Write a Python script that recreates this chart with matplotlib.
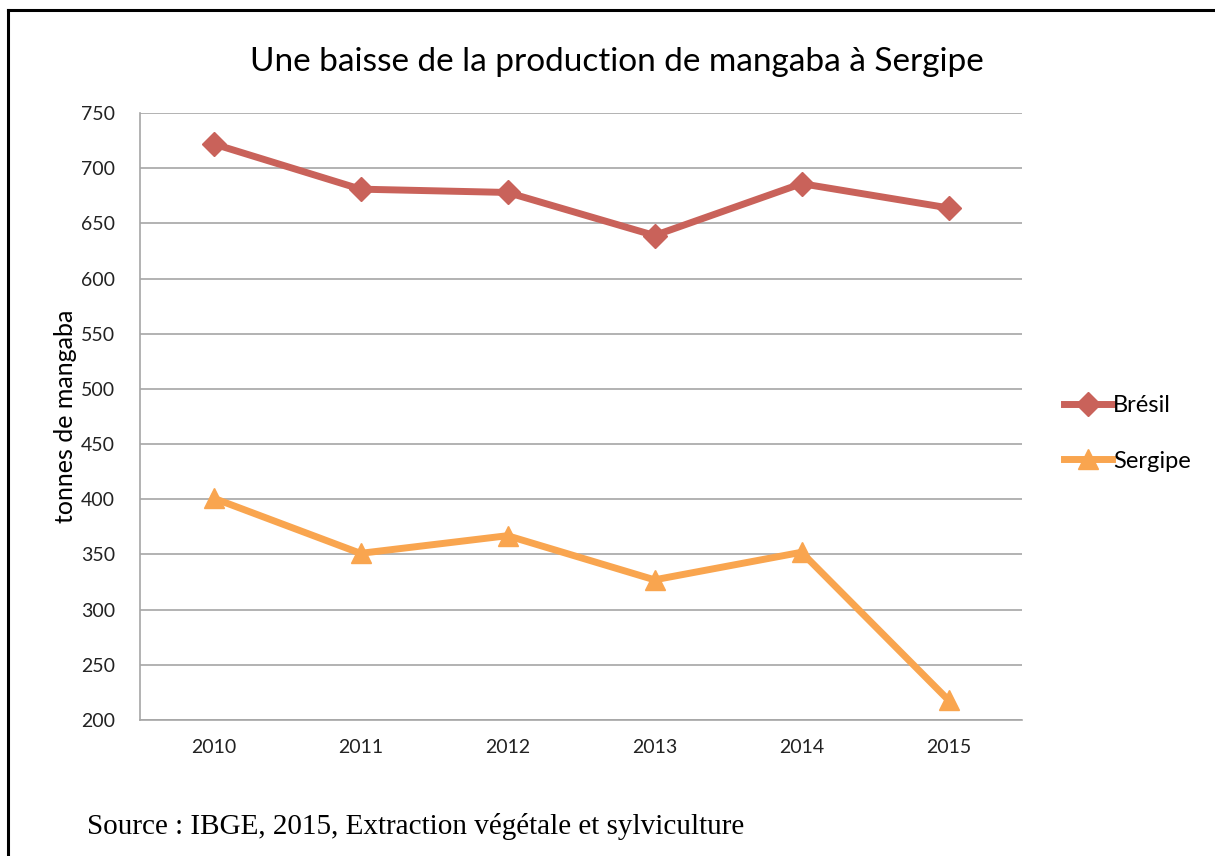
import matplotlib.pyplot as plt
from matplotlib.lines import Line2D

years = ["2010", "2011", "2012", "2013", "2014", "2015"]
bresil = [722, 681, 678, 639, 686, 664]
sergipe = [401, 351, 367, 327, 352, 218]

red = "#C9625A"
orange = "#F9A54F"
grid = "#A6A6A6"

plt.rcParams['font.family'] = ['Lato', 'DejaVu Sans']

fig = plt.figure(figsize=(12.15, 8.56), dpi=100)
ax = fig.add_axes([140 / 1215, 1 - 720 / 856, 882 / 1215, 607 / 856])

x = range(len(years))
ax.plot(x, bresil, color=red, lw=5, marker="D", markersize=12, label="Brésil")
ax.plot(x, sergipe, color=orange, lw=5, marker="^", markersize=14, label="Sergipe")

ax.set_xlim(-0.5, len(years) - 0.5)
ax.set_ylim(200, 750)
ax.set_yticks(range(200, 751, 50))
ax.set_xticks(list(x))
ax.set_xticklabels(years)
ax.tick_params(axis="both", length=0, labelsize=14, colors="#222222")
ax.tick_params(axis="y", pad=18)
ax.tick_params(axis="x", pad=14)
ax.grid(axis="y", color=grid, lw=1.2)
ax.set_axisbelow(True)
for s in ["top", "right"]:
    ax.spines[s].set_visible(False)
for s in ["left", "bottom"]:
    ax.spines[s].set_color(grid)
    ax.spines[s].set_linewidth(1.2)

ax.set_ylabel("tonnes de mangaba", fontsize=18, labelpad=3)

fig.text(0.508, 1 - 62 / 856, "Une baisse de la production de mangaba à Sergipe",
         ha="center", va="center", fontsize=24)

ax.legend(loc="center left", bbox_to_anchor=(1.024, 0.472), frameon=False, fontsize=17,
          handlelength=2.0, handletextpad=0.05, labelspacing=1.45)

fig.text(87 / 1215, 1 - 827 / 856, "Source : IBGE, 2015, Extraction végétale et sylviculture",
         family="Liberation Serif", fontsize=21, va="center", ha="left")

# cadre
fig.add_artist(Line2D([8 / 1215, 8 / 1215], [0, 1 - 10 / 856], color="black", lw=2.2,
                      transform=fig.transFigure))
fig.add_artist(Line2D([8 / 1215, 1], [1 - 10 / 856, 1 - 10 / 856], color="black", lw=2.2,
                      transform=fig.transFigure))

fig.savefig("out.png", dpi=100)
